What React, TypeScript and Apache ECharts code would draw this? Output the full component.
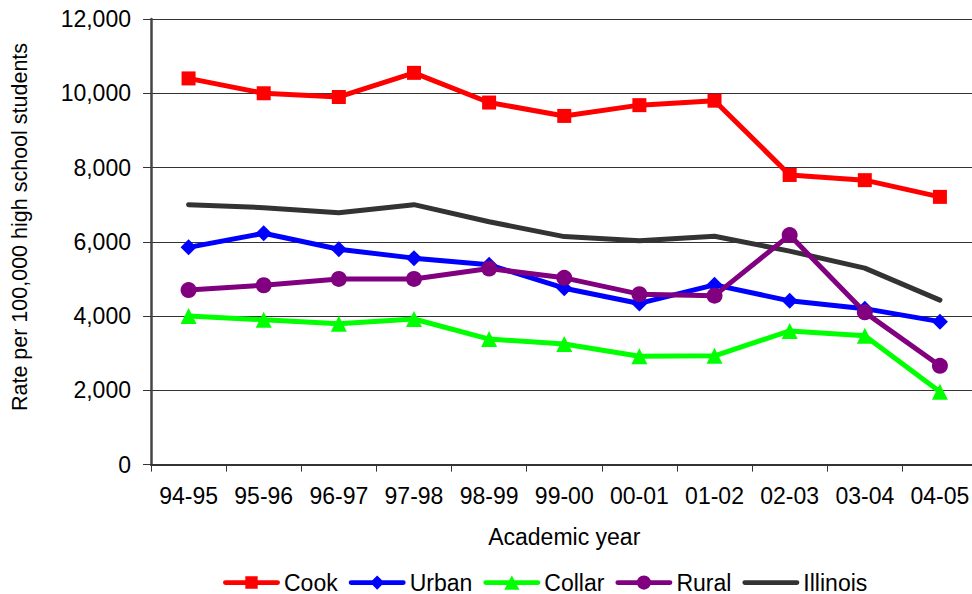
import React, { useEffect, useRef } from "react";
import * as echarts from "echarts";

const years = ["94-95", "95-96", "96-97", "97-98", "98-99", "99-00", "00-01", "01-02", "02-03", "03-04", "04-05"];
const cook = [10400, 10000, 9900, 10550, 9750, 9390, 9680, 9800, 7800, 7660, 7210];
const urban = [5850, 6230, 5800, 5560, 5380, 4750, 4340, 4840, 4410, 4200, 3850];
const collar = [4000, 3900, 3790, 3920, 3380, 3250, 2920, 2930, 3600, 3470, 1960];
const rural = [4700, 4830, 5000, 5000, 5280, 5030, 4590, 4550, 6180, 4100, 2660];
const illinois = [7000, 6920, 6780, 7000, 6540, 6140, 6030, 6150, 5750, 5290, 4430];

const FONT = "'Liberation Sans', Arial, sans-serif";
const FS = 23;

// Legend icons drawn in a 57 x 15 box: a thick line with the series marker on it.
// Tiny corner specks pin the bounding box so the icon is not rescaled.
const SPECKS = "M0,0 L0.01,0 L0,0.01 Z M57,15 L56.99,15 L57,14.99 Z ";
const LINE = "M1,5 L56,5 A2.5,2.5 0 0 1 56,10 L1,10 A2.5,2.5 0 0 1 1,5 Z ";
const ICONS: Record<string, string> = {
  Cook: "path://" + SPECKS + LINE + "M22,1 L35,1 L35,14 L22,14 Z",
  Urban: "path://" + SPECKS + LINE + "M28.5,0 L36,7.5 L28.5,15 L21,7.5 Z",
  Collar: "path://" + SPECKS + LINE + "M28.5,0 L36.5,15 L20.5,15 Z",
  Rural: "path://" + SPECKS + LINE + "M21,7.5 A7.5,7.5 0 1 1 36,7.5 A7.5,7.5 0 1 1 21,7.5 Z",
  Illinois: "path://" + SPECKS + LINE,
};

export default function App() {
  const ref = useRef<HTMLDivElement>(null);

  useEffect(() => {
    if (!ref.current) return;
    const chart = echarts.init(ref.current, null, { renderer: "svg" });

    const mk = (name: string, data: number[], color: string, symbol: string, size: number) => ({
      name,
      type: "line",
      data,
      symbol,
      symbolSize: size,
      showSymbol: symbol !== "none",
      lineStyle: { color, width: 5, cap: "round", join: "round" },
      itemStyle: { color },
      z: 3,
    });

    chart.setOption({
      animation: false,
      backgroundColor: "#ffffff",
      textStyle: { fontFamily: FONT },
      grid: { left: 151, top: 19, width: 826.5, height: 445.6, outerBoundsMode: "none" },
      // Vertical y-axis title, placed on its own so it can sit a little above the plot's middle
      graphic: [
        {
          type: "text",
          x: 20,
          y: 227,
          rotation: Math.PI / 2,
          style: {
            text: "Rate per 100,000 high school students",
            fontSize: 21.5,
            fontFamily: FONT,
            fill: "#000",
            align: "center",
            verticalAlign: "middle",
          },
        },
      ],
      xAxis: {
        type: "category",
        data: years,
        boundaryGap: true,
        name: "Academic year",
        nameLocation: "middle",
        nameGap: 61,
        nameTextStyle: { fontSize: FS, color: "#000", fontFamily: FONT },
        axisLine: { lineStyle: { color: "#333", width: 2 } },
        axisTick: { show: true, interval: 0, length: 7, alignWithLabel: false, lineStyle: { color: "#333", width: 1 } },
        axisLabel: { interval: 0, hideOverlap: false, fontSize: FS, color: "#000", margin: 20, fontFamily: FONT },
        splitLine: { show: false },
      },
      yAxis: {
        type: "value",
        min: 0,
        max: 12000,
        interval: 2000,
        axisLine: { show: true, lineStyle: { color: "#444", width: 2.5 } },
        axisTick: { show: true, length: 8, lineStyle: { color: "#333", width: 1 } },
        axisLabel: {
          fontSize: FS,
          color: "#000",
          margin: 20,
          fontFamily: FONT,
          formatter: (v: number) => v.toLocaleString("en-US"),
        },
        splitLine: { show: true, lineStyle: { color: "#333", width: 1 } },
      },
      legend: {
        left: 218,
        top: 566,
        itemWidth: 57,
        itemHeight: 15,
        itemGap: 11,
        textStyle: { fontSize: FS, color: "#000", fontFamily: FONT, padding: [0, 0, 0, -1] },
        data: ["Cook", "Urban", "Collar", "Rural", "Illinois"].map((n) => ({ name: n, icon: ICONS[n] })),
      },
      series: [
        mk("Cook", cook, "#ff0000", "rect", 14),
        mk("Urban", urban, "#0000ff", "diamond", 16),
        mk("Collar", collar, "#00ff00", "triangle", 16),
        mk("Rural", rural, "#800080", "circle", 16),
        { ...mk("Illinois", illinois, "#333333", "none", 0), z: 2 },
      ],
    });

    return () => chart.dispose();
  }, []);

  return (
    <div
      ref={ref}
      style={{ position: "absolute", left: 0, top: 0, width: 972, height: 594, overflow: "hidden" }}
    />
  );
}
